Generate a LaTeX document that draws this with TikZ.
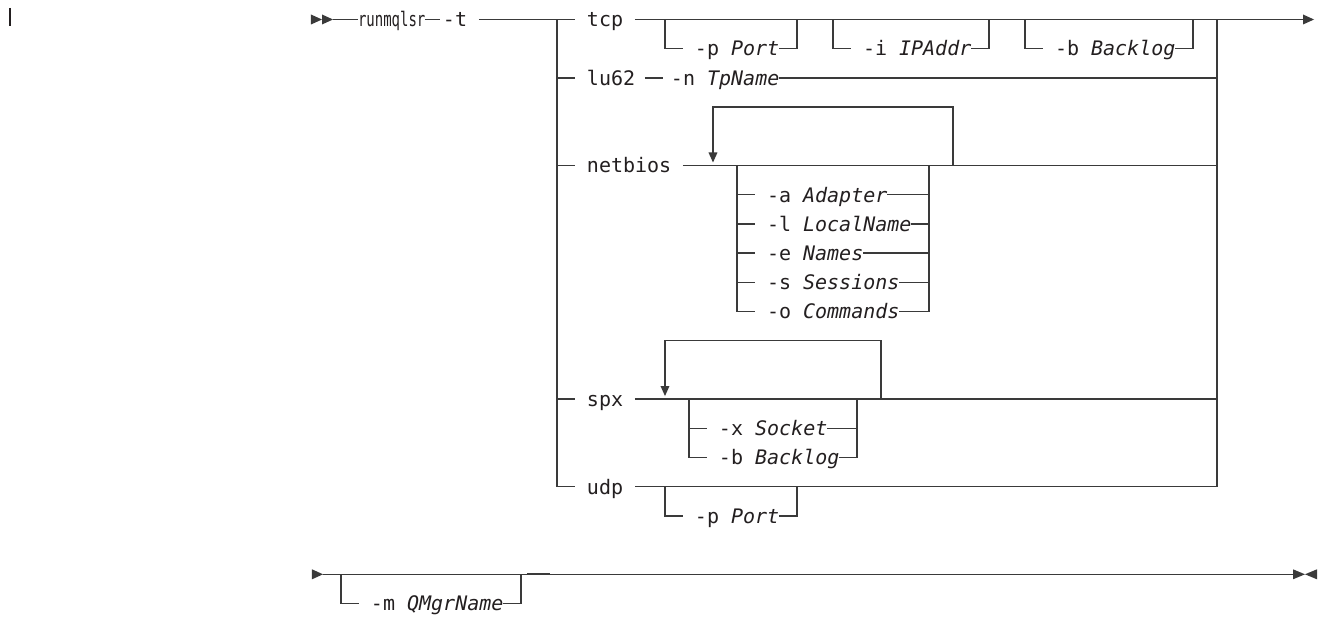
\documentclass[tikz,border=0pt]{standalone}
\usepackage{fontspec}
\usepackage{graphicx}
\newfontfamily\railfont{DejaVu Sans Mono}
\definecolor{railline}{HTML}{3A3A3A}
\definecolor{railtext}{HTML}{231F20}
% filled arrow tips used on the rails (given in points, y up)
\newcommand\railtipR[2][11pt]{\fill[railline] (#2) ++(0pt,5pt) -- ++(#1,-5pt) -- ++(-#1,-5pt) -- cycle;}
\newcommand\railtipL[2][11pt]{\fill[railline] (#2) ++(0pt,5pt) -- ++(-#1,-5pt) -- ++(#1,-5pt) -- cycle;}
\newcommand\railtipD[1]{\fill[railline] (#1) -- ++(-4.5pt,10pt) -- ++(9pt,0pt) -- cycle;}
\begin{document}
% one unit in x = one character cell (12pt), one unit in y = one text row
\begin{tikzpicture}[x=12pt,y=-29.2pt,
  rail/.style={draw=railline,line width=1.5pt,line join=miter},
  word/.style={anchor=base west,inner sep=0pt,outer sep=0pt,yshift=-7.3pt,
    text=railtext,font=\railfont\fontsize{20}{24}\selectfont},
  changebar/.style={draw=railtext,line width=2.2pt}]
\useasboundingbox[fill=white] (-46.4167,-0.6678) rectangle (63.4167,20.4966);

% change bar in the margin
\draw[changebar] (-45.583,-0.394) -- (-45.583,0.223);

% ---------- first line: command and -t ----------
\coordinate (start) at (-20.5,0);
\railtipR{start}
\railtipR{-19.583,0}
\node[word] (cmd) at (-16.583,0) {\scalebox{0.7}[1]{runmqlsr}};
\node[word] (optt) at (-9.5,0) {-t};
\draw[rail] (-18.667,0) -- (cmd.west |- 0,0);
\draw[rail] (-11,0) -- (-9.75,0);

% main choice: left and right bars
\coordinate (jl) at (0,0);
\coordinate (jr) at (55,0);
\coordinate (out) at (62.1667,0);
\draw[rail] (-6.5,0) -- (1.5,0);
\draw[rail] (jl) -- (0,16) -- (1.5,16);
\draw[rail] (0,2) -- (1.5,2);
\draw[rail] (0,5) -- (1.5,5);
\draw[rail] (0,13) -- (1.5,13);
\draw[rail] (jr) -- (55,16) -- (6.5,16);
\railtipR{out}

% tcp
\node[word] (tcp) at (2.5,0) {tcp};
\draw[rail] (6.5,0) -- (out);
\node[word] (tcpp) at (11.5,1) {-p \textit{Port}};
\draw[rail] (9,0) -- (9,1) -- (10.5,1);
\draw[rail] (18.5,1) -- (20,1) -- (20,0);
\node[word] (tcpi) at (25.5,1) {-i \textit{IPAddr}};
\draw[rail] (23,0) -- (23,1) -- (24.5,1);
\draw[rail] (34.5,1) -- (36,1) -- (36,0);
\node[word] (tcpb) at (41.5,1) {-b \textit{Backlog}};
\draw[rail] (39,0) -- (39,1) -- (40.5,1);
\draw[rail] (51.5,1) -- (53,1) -- (53,0);

% lu62
\node[word] (lu) at (2.5,2) {lu62};
\draw[rail] (7.33,2) -- (8.83,2);
\node[word] (lun) at (9.5,2) {-n \textit{TpName}};
\draw[rail] (18.5,2) -- (55,2);

% netbios with repeat loop
\node[word] (nb) at (2.5,5) {netbios};
\draw[rail] (10.5,5) -- (55,5);
\draw[rail] (33,5) -- (33,3) -- (13,3) -- (13,4.8);
\railtipD{13,4.897}
\draw[rail] (15,5) -- (15,10) -- (16.5,10);
\foreach \r in {6,7,8,9} \draw[rail] (15,\r) -- (16.5,\r);
\draw[rail] (31,5) -- (31,10);
\node[word] (nba) at (17.5,6) {-a \textit{Adapter}};
\node[word] (nbl) at (17.5,7) {-l \textit{LocalName}};
\node[word] (nbe) at (17.5,8) {-e \textit{Names}};
\node[word] (nbs) at (17.5,9) {-s \textit{Sessions}};
\node[word] (nbo) at (17.5,10) {-o \textit{Commands}};
\draw[rail] (27.5,6) -- (31,6);
\draw[rail] (29.5,7) -- (31,7);
\draw[rail] (25.5,8) -- (31,8);
\draw[rail] (28.5,9) -- (31,9);
\draw[rail] (28.5,10) -- (31,10);

% spx with repeat loop
\node[word] (sp) at (2.5,13) {spx};
\draw[rail] (6.5,13) -- (55,13);
\draw[rail] (27,13) -- (27,11) -- (9,11) -- (9,12.8);
\railtipD{9,12.894}
\draw[rail] (11,13) -- (11,15) -- (12.5,15);
\draw[rail] (11,14) -- (12.5,14);
\draw[rail] (25,13) -- (25,15);
\node[word] (spxx) at (13.5,14) {-x \textit{Socket}};
\node[word] (spxb) at (13.5,15) {-b \textit{Backlog}};
\draw[rail] (22.5,14) -- (25,14);
\draw[rail] (23.5,15) -- (25,15);

% udp
\node[word] (ud) at (2.5,16) {udp};
\node[word] (udpp) at (11.5,17) {-p \textit{Port}};
\draw[rail] (9,16) -- (9,17) -- (10.5,17);
\draw[rail] (18.5,17) -- (20,17) -- (20,16);

% ---------- second line: -m and end of statement ----------
\coordinate (cont) at (-20.417,19);
\coordinate (stop) at (61.333,19);
\railtipR{cont}
\draw[rail] (-19.5,19) -- (stop);
\draw[rail] (-18,19) -- (-18,20) -- (-16.5,20);
\node[word] (qm) at (-15.5,20) {-m \textit{QMgrName}};
\draw[rail] (-4.5,20) -- (-3,20) -- (-3,19);
\draw[draw=railline,line width=1.9pt] ([yshift=0.3pt]-2.5,19) -- ([yshift=0.3pt]-0.583,19);
\railtipR[12pt]{stop}
\railtipL[12pt]{63.333,19}
\end{tikzpicture}
\end{document}
